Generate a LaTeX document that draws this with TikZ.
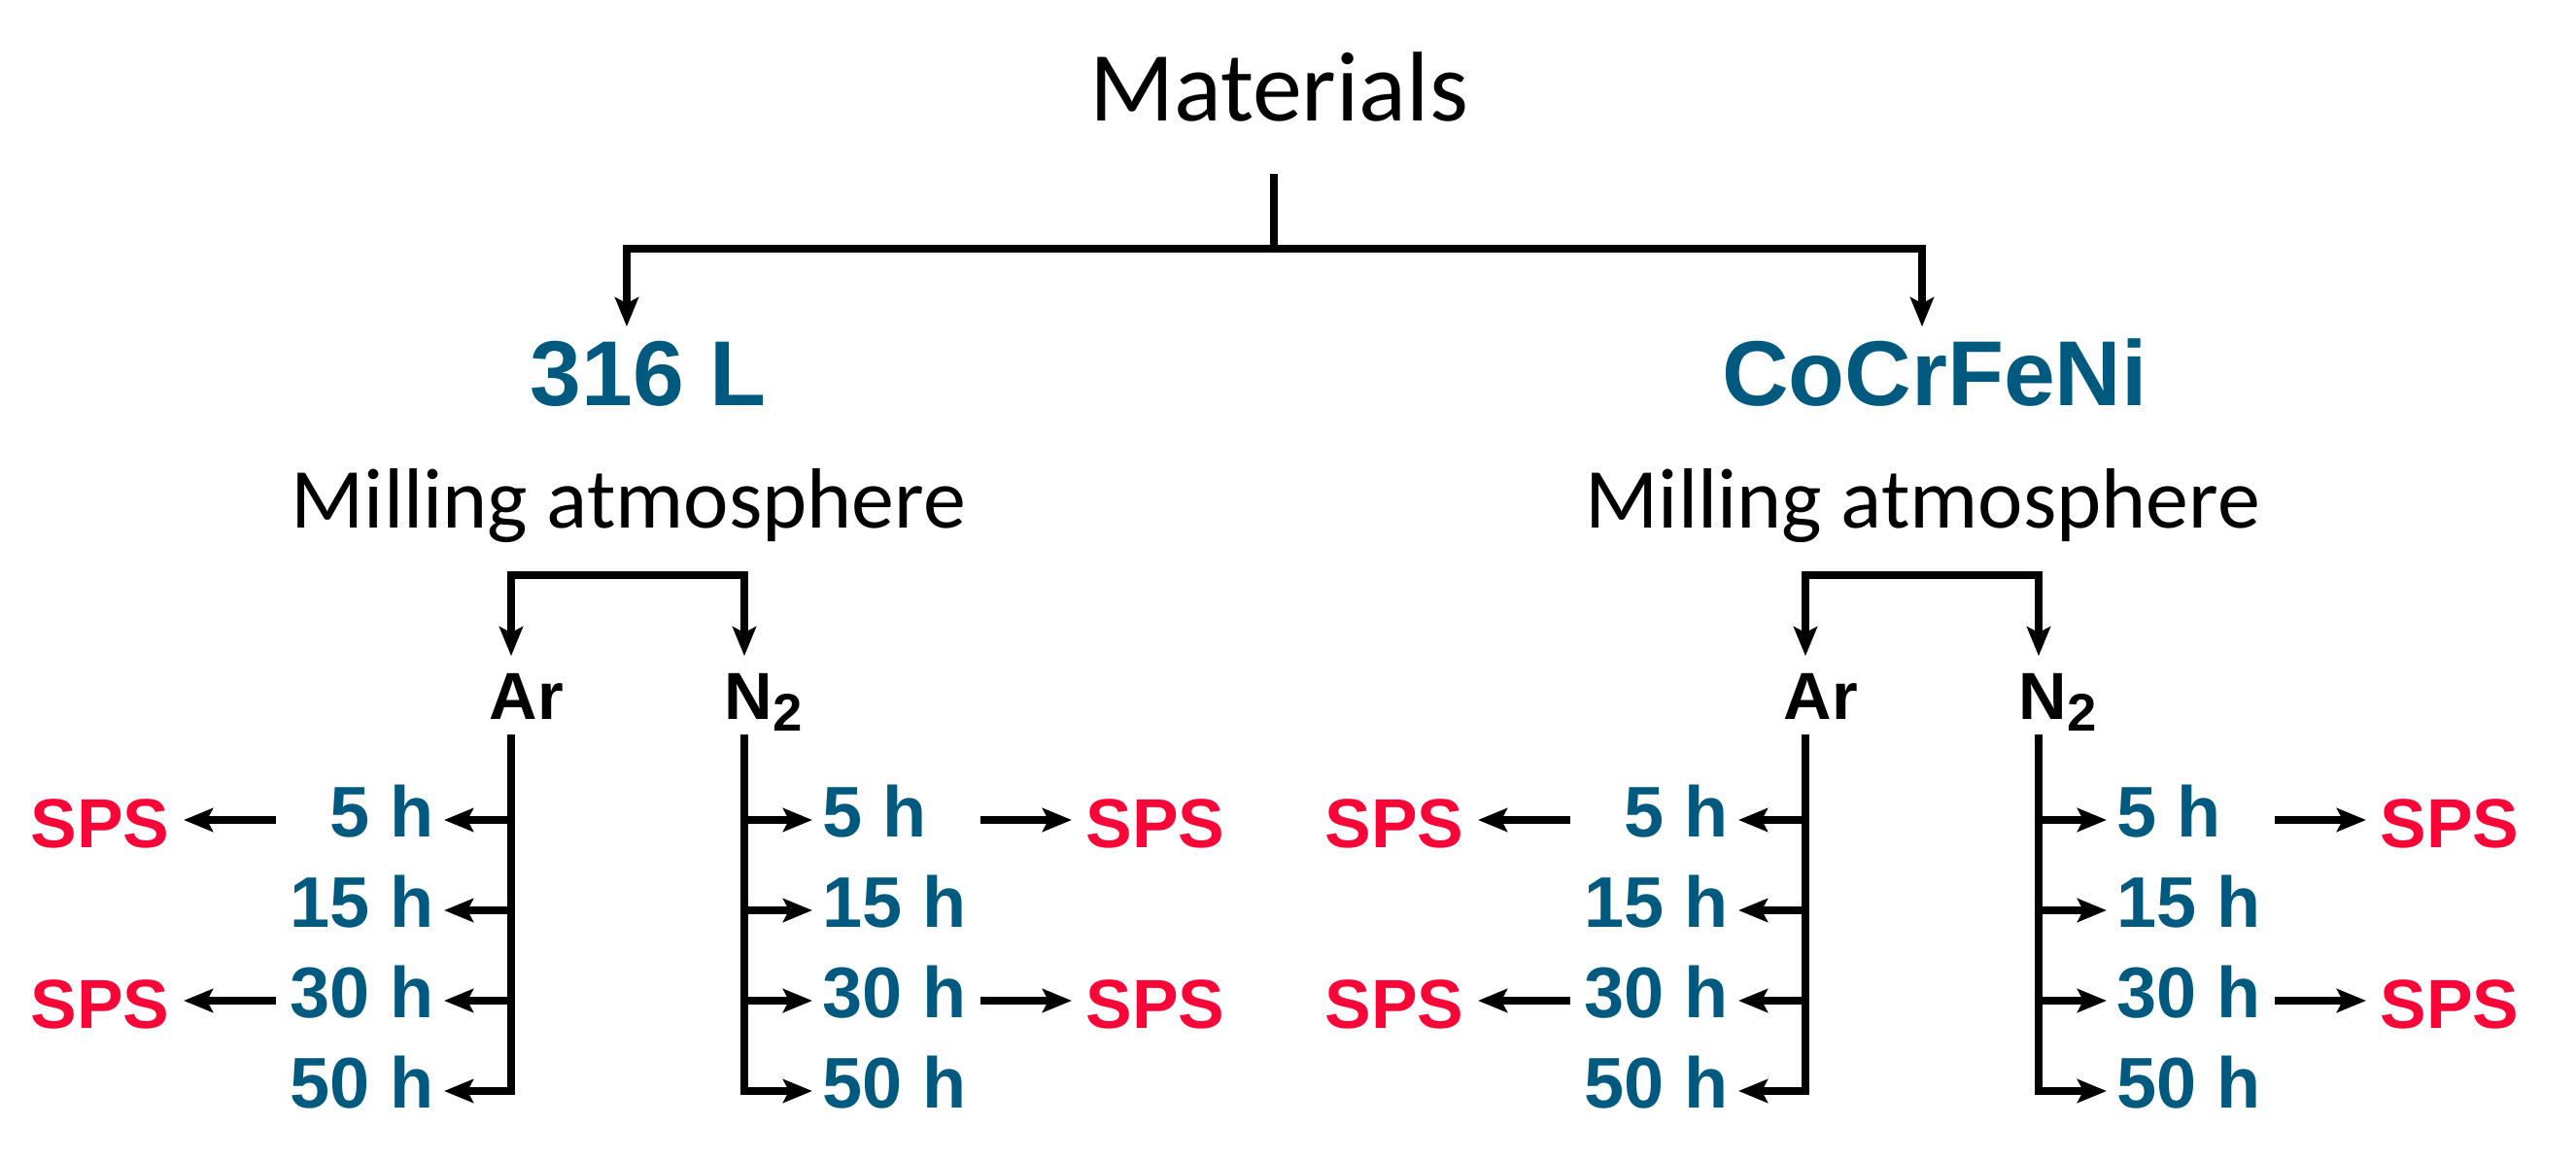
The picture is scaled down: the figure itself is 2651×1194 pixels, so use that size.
\documentclass[tikz,border=0pt]{standalone}
\usepackage{fontspec}
\newfontfamily\arialfont{Liberation Sans}
\newfontfamily\calibrifont{Carlito}
\usetikzlibrary{arrows.meta}
\definecolor{matblue}{RGB}{0,90,128}
\definecolor{spsred}{RGB}{250,5,55}
\tikzset{
  conn/.style={line width=0.75mm},
  arr/.style={conn, -{Stealth[length=3mm,width=2.4mm,inset=0.6mm]}},
  dblarr/.style={conn, {Stealth[length=3mm,width=2.4mm,inset=0.6mm]}-{Stealth[length=3mm,width=2.4mm,inset=0.6mm]}},
  title/.style={font=\calibrifont\fontsize{29pt}{29pt}\selectfont, inner sep=0pt, anchor=base},
  mill/.style={font=\calibrifont\fontsize{25pt}{25pt}\selectfont, inner sep=0pt, anchor=base},
  alloy/.style={font=\arialfont\bfseries\fontsize{27pt}{27pt}\selectfont, text=matblue, anchor=base,
    text height=6.7mm, text depth=0pt, inner ysep=1.3mm},
  gas/.style={font=\arialfont\bfseries\fontsize{19.5pt}{19.5pt}\selectfont, anchor=base west,
    inner xsep=0pt, inner ysep=1.5mm, text height=4.9mm, text depth=0pt},
  hour/.style={font=\arialfont\bfseries\fontsize{21pt}{21pt}\selectfont, text=matblue,
    inner xsep=1mm, text height=5.2mm, text depth=1.8mm},
  sps/.style={font=\arialfont\bfseries\fontsize{20.3pt}{20.3pt}\selectfont, text=spsred,
    inner xsep=1.4mm, text height=5.6mm, text depth=0pt},
}
\begin{document}
\begin{tikzpicture}[x=0.01cm, y=-0.01cm]
	\useasboundingbox (0,0) rectangle (2651,1194);
	\node[title] (mats) at (1316,125) {Materials};
	\coordinate (stem) at (1311,256);
	\coordinate (topa) at (645,256);
	\coordinate (topb) at (1978,256);
	\draw[conn, shorten <=5.3mm] (stem |- mats.south) -- (stem);
	% one group per alloy
	\foreach \g/\dx/\mname/\ax in {a/0/316 L/667, b/1332/CoCrFeNi/659} {
	\begin{scope}[xshift=\dx*0.01cm]
		\node[alloy] (alloy\g) at (\ax,417) {\mname};
		\node[mill] (mill\g) at (647,543) {Milling atmosphere};
		\node[gas] (ar\g) at (503,740) {Ar};
		\node[gas] (nn\g) at (745,740) {N\raisebox{-1.2mm}{\fontsize{15.5pt}{15.5pt}\selectfont 2}};
		\coordinate (bl\g) at (526,592);
		\coordinate (br\g) at (766,592);
		\draw[dblarr] (bl\g |- ar\g.north) -- (bl\g) -- (br\g) -- (br\g |- nn\g.north);
		\foreach \i/\y/\t in {1/844/5, 2/937/15, 3/1030/30, 4/1123/50} {
			\node[hour, anchor=east] (ha\i\g) at (457,\y) {\t\ h};
			\node[hour, anchor=west] (hn\i\g) at (836,\y) {\t\ h};
		}
		\draw[arr] (bl\g |- ar\g.south) |- (ha4\g.east);
		\draw[arr] (br\g |- nn\g.south) |- (hn4\g.west);
		\foreach \i in {1,2,3} {
			\draw[arr] (bl\g |- ha\i\g.east) -- (ha\i\g.east);
			\draw[arr] (br\g |- hn\i\g.west) -- (hn\i\g.west);
		}
		\foreach \i/\y in {1/844, 3/1030} {
			\node[sps, anchor=east] (sa\i\g) at (189,\y) {SPS};
			\node[sps, anchor=west] (sn\i\g) at (1103,\y) {SPS};
			\draw[arr] ([xshift=9.5mm]sa\i\g.east) -- (sa\i\g.east);
			\draw[arr] ([xshift=-9.4mm]sn\i\g.west) -- (sn\i\g.west);
		}
	\end{scope}
	}
	\draw[arr] (stem) -| (topa |- alloya.north);
	\draw[arr] (stem) -| (topb |- alloyb.north);
\end{tikzpicture}
\end{document}
